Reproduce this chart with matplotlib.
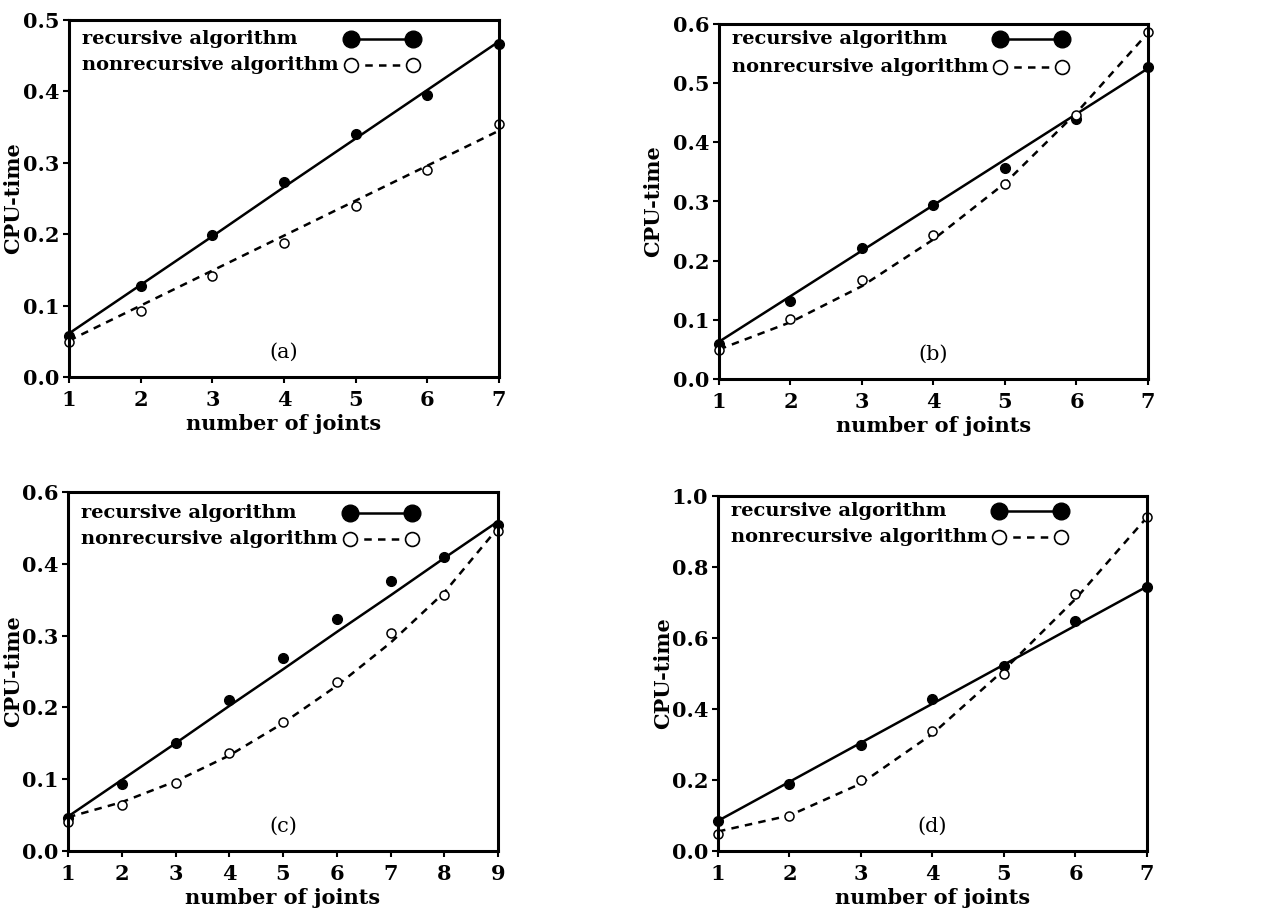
import numpy as np
import matplotlib
matplotlib.use('Agg')
import matplotlib.pyplot as plt

plt.rcParams['font.family'] = 'DejaVu Serif'
plt.rcParams['font.weight'] = 'bold'
plt.rcParams['axes.labelweight'] = 'bold'

# panel (a)
xa = [1, 2, 3, 4, 5, 6, 7]
rec_a = [0.058, 0.127, 0.199, 0.273, 0.341, 0.395, 0.467]
non_a = [0.049, 0.093, 0.141, 0.188, 0.239, 0.290, 0.355]
rec_fit_a = [0.061, 0.129, 0.197, 0.266, 0.334, 0.402, 0.470]
non_fit_a = [0.051, 0.100, 0.149, 0.198, 0.247, 0.296, 0.345]

# panel (b)
xb = [1, 2, 3, 4, 5, 6, 7]
rec_b = [0.060, 0.131, 0.221, 0.294, 0.357, 0.440, 0.528]
non_b = [0.049, 0.101, 0.168, 0.243, 0.329, 0.446, 0.586]
rec_fit_b = [0.063, 0.140, 0.217, 0.294, 0.371, 0.448, 0.525]
non_fit_b = [0.050, 0.096, 0.157, 0.236, 0.331, 0.450, 0.585]

# panel (c)
xc = [1, 2, 3, 4, 5, 6, 7, 8, 9]
rec_c = [0.046, 0.094, 0.150, 0.211, 0.269, 0.323, 0.376, 0.409, 0.454]
non_c = [0.041, 0.064, 0.095, 0.136, 0.180, 0.236, 0.304, 0.357, 0.445]
rec_fit_c = [0.048, 0.099, 0.150, 0.202, 0.253, 0.305, 0.356, 0.408, 0.459]
non_fit_c = [0.047, 0.068, 0.097, 0.133, 0.178, 0.230, 0.290, 0.360, 0.450]

# panel (d)
xd = [1, 2, 3, 4, 5, 6, 7]
rec_d = [0.084, 0.190, 0.300, 0.429, 0.521, 0.647, 0.744]
non_d = [0.049, 0.100, 0.199, 0.338, 0.499, 0.725, 0.941]
rec_fit_d = [0.085, 0.195, 0.305, 0.415, 0.525, 0.635, 0.745]
non_fit_d = [0.055, 0.100, 0.190, 0.330, 0.510, 0.710, 0.940]

labels = ['recursive algorithm', 'nonrecursive algorithm']

panels = [
    ('(a)', xa, rec_a, non_a, rec_fit_a, non_fit_a,
     [0, 0.1, 0.2, 0.3, 0.4, 0.5], ['0.0', '0.1', '0.2', '0.3', '0.4', '0.5'], 0.5,
     [69, 20, 499, 377], (0.946, 0.874), -0.107),
    ('(b)', xb, rec_b, non_b, rec_fit_b, non_fit_b,
     [0, 0.1, 0.2, 0.3, 0.4, 0.5, 0.6], ['0.0', '0.1', '0.2', '0.3', '0.4', '0.5', '0.6'], 0.6,
     [719, 24, 1148, 379], (0.957, 0.880), -0.13),
    ('(c)', xc, rec_c, non_c, rec_fit_c, non_fit_c,
     [0, 0.1, 0.2, 0.3, 0.4, 0.5], ['0.0', '0.1', '0.2', '0.3', '0.4', '0.6'], 0.5,
     [68, 492, 498, 851], (0.942, 0.868), -0.105),
    ('(d)', xd, rec_d, non_d, rec_fit_d, non_fit_d,
     [0, 0.2, 0.4, 0.6, 0.8, 1.0], ['0.0', '0.2', '0.4', '0.6', '0.8', '1.0'], 1.0,
     [718, 496, 1147, 851], (0.958, 0.885), -0.105),
]

W, H = 1281, 909
fig = plt.figure(figsize=(W / 100, H / 100), dpi=100)

fs = 15
for tag, x, rec, non, rfit, nfit, yt, ytl, ymax, box, rows, ylx in panels:
    l, t, r, b = box
    ax = fig.add_axes([l / W, 1 - b / H, (r - l) / W, (b - t) / H])
    ax.plot(x, rfit, 'k-', lw=1.8)
    ax.plot(x, nfit, 'k--', lw=1.8, dashes=(3, 2.5))
    ax.plot(x, rec, 'o', ms=7, mfc='black', mec='black', clip_on=False)
    ax.plot(x, non, 'o', ms=6.5, mfc='white', mec='black', mew=1.1, clip_on=False)
    ax.set_xlim(x[0], x[-1])
    ax.set_ylim(0, ymax)
    ax.set_xticks(x)
    ax.set_yticks(yt)
    ax.set_yticklabels(ytl)
    ax.tick_params(direction='out', length=4, width=1.5, labelsize=fs, pad=3)
    ax.tick_params(axis='x', pad=5)
    for s in ax.spines.values():
        s.set_linewidth(2.2)
    ax.set_xlabel('number of joints', fontsize=fs, labelpad=3)
    ax.set_ylabel('CPU-time', fontsize=fs)
    ax.yaxis.set_label_coords(ylx, 0.5)
    ax.text(0.5, 0.07, tag, transform=ax.transAxes, ha='center', va='center',
            fontsize=fs, fontweight='normal')

    # legend drawn by hand: text left, sample line with end markers on the right
    y1, y2 = rows
    ax.text(0.03, y1, labels[0], transform=ax.transAxes, ha='left', va='center', fontsize=14)
    ax.text(0.03, y2, labels[1], transform=ax.transAxes, ha='left', va='center', fontsize=14)
    ax.plot([0.655, 0.80], [y1, y1], 'k-', lw=1.8, marker='o', ms=12,
            mfc='black', mec='black', transform=ax.transAxes, clip_on=False)
    ax.plot([0.655, 0.80], [y2, y2], 'k--', lw=1.8, dashes=(3, 2.5), marker='o', ms=10,
            mfc='white', mec='black', mew=1.2, transform=ax.transAxes, clip_on=False)

plt.savefig('out.png', dpi=100)
plt.close(fig)
